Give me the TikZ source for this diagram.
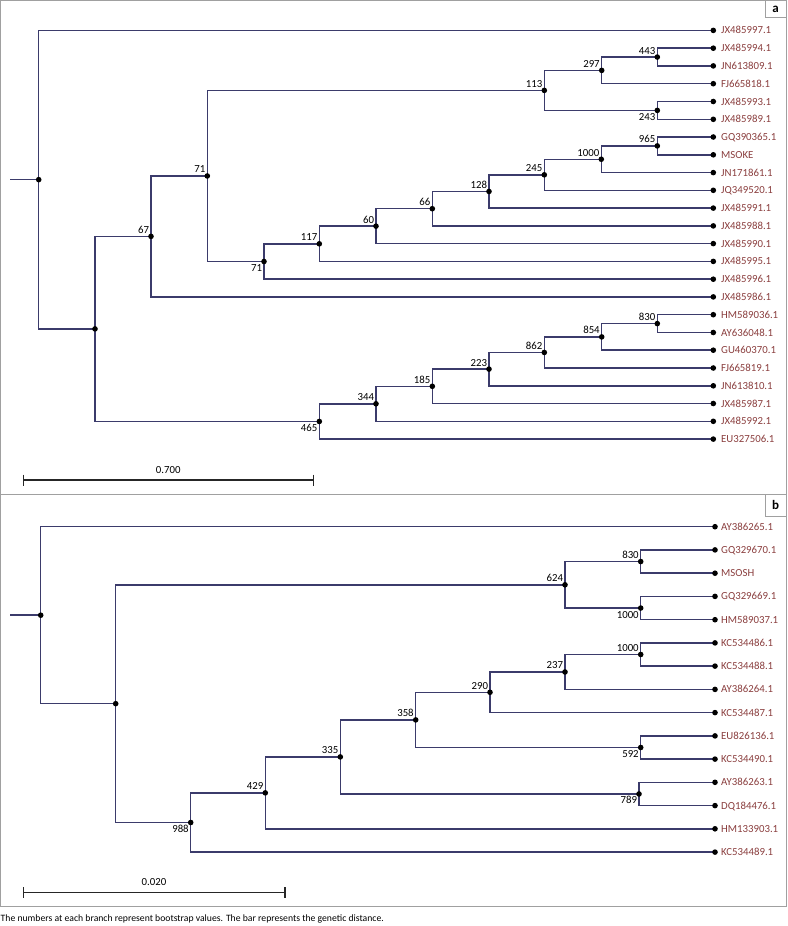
\documentclass[tikz,border=0pt]{standalone}
\usepackage{fontspec}
\setmainfont{Carlito}
\definecolor{branch}{HTML}{3B3B6B}
\definecolor{leafred}{HTML}{8A3E3E}
\definecolor{framegray}{HTML}{A0A0A0}
\tikzset{
  br/.style={draw=branch, line width=1.5pt},
  dot/.style={circle, fill=black, inner sep=0pt, minimum size=5.6pt},
  bs/.style={font=\fontsize{10.8}{12}\selectfont, inner sep=0pt, text=black},
  bsup/.style={bs, anchor=base east, xshift=-1.8pt, yshift=3pt},
  bsdn/.style={bs, anchor=base east, xshift=-1.8pt, yshift=-10pt},
  leaflab/.style={font=\fontsize{10.8}{12}\selectfont, inner sep=0pt, text=leafred, anchor=base west},
  frame/.style={draw=framegray, line width=1pt},
  panlab/.style={draw=framegray, line width=1pt, fill=white, font=\fontsize{13}{14}\selectfont\bfseries, inner sep=0pt},
  sbar/.style={draw=black!85, line width=1.5pt},
}
\begin{document}
\begin{tikzpicture}[x=1pt,y=-1pt]
\useasboundingbox (0,0) rectangle (787,926);
% frames
\draw[frame] (0.8,0.8) rectangle (786,494);
\draw[frame] (0.8,494) rectangle (786,906.5);
\node[panlab, minimum width=21pt, minimum height=17pt] (pa) at (775.5,9.1) {a};
\node[panlab, minimum width=21pt, minimum height=22pt] (pb) at (775.5,505) {b};

% ---------------- panel a ----------------
\coordinate (a1) at (713.3,30.4);
\coordinate (a2) at (713.3,48.2);
\coordinate (a3) at (713.3,65.9);
\coordinate (a4) at (713.3,83.7);
\coordinate (a5) at (713.3,101.5);
\coordinate (a6) at (713.3,119.3);
\coordinate (a7) at (713.3,137.0);
\coordinate (a8) at (713.3,154.8);
\coordinate (a9) at (713.3,172.6);
\coordinate (a10) at (713.3,190.3);
\coordinate (a11) at (713.3,208.1);
\coordinate (a12) at (713.3,225.9);
\coordinate (a13) at (713.3,243.6);
\coordinate (a14) at (713.3,261.4);
\coordinate (a15) at (713.3,279.2);
\coordinate (a16) at (713.3,296.9);
\coordinate (a17) at (713.3,314.7);
\coordinate (a18) at (713.3,332.5);
\coordinate (a19) at (713.3,350.2);
\coordinate (a20) at (713.3,368.0);
\coordinate (a21) at (713.3,385.8);
\coordinate (a22) at (713.3,403.5);
\coordinate (a23) at (713.3,421.3);
\coordinate (a24) at (713.3,439.1);

\coordinate (n443) at (657.3,57.05);
\coordinate (n297) at (601.7,70.4);
\coordinate (n243) at (657.3,110.4);
\coordinate (n113) at (544.3,90.4);
\coordinate (n965) at (657.3,145.9);
\coordinate (n1000) at (601.3,159.25);
\coordinate (n245) at (544.3,174.8);
\coordinate (n128) at (489,191.45);
\coordinate (n66) at (432.3,208.7);
\coordinate (n60) at (376,226.15);
\coordinate (n117) at (319.3,243.8);
\coordinate (n71b) at (264,261.5);
\coordinate (n71) at (207.3,175.95);
\coordinate (n67) at (151,236.4);
\coordinate (n830) at (657.3,323.6);
\coordinate (n854) at (601.7,336.9);
\coordinate (n862) at (544.3,352.45);
\coordinate (n223) at (489,369.1);
\coordinate (n185) at (432.3,386.3);
\coordinate (n344) at (376,403.8);
\coordinate (n465) at (319.3,421.45);
\coordinate (nB) at (95,328.9);
\coordinate (ra) at (38.7,179.65);
\coordinate (sta) at (10,179.65);

\draw[br] (sta) -- (ra);
\foreach \p/\c in {ra/a1, ra/nB, nB/n67, nB/n465, n67/n71, n67/a16,
  n71/n113, n71/n71b, n113/n297, n113/n243, n297/n443, n297/a4,
  n443/a2, n443/a3, n243/a5, n243/a6, n71b/n117, n71b/a15,
  n117/n60, n117/a14, n60/n66, n60/a13, n66/n128, n66/a12,
  n128/n245, n128/a11, n245/n1000, n245/a10, n1000/n965, n1000/a9,
  n965/a7, n965/a8, n465/n344, n465/a24, n344/n185, n344/a23,
  n185/n223, n185/a22, n223/n862, n223/a21, n862/n854, n862/a20,
  n854/n830, n854/a19, n830/a17, n830/a18}
  \draw[br] (\p) |- (\c);

\foreach \n in {ra,nB,n67,n71,n71b,n113,n297,n443,n243,n117,n60,n66,n128,n245,n1000,n965,
  n465,n344,n185,n223,n862,n854,n830,
  a1,a2,a3,a4,a5,a6,a7,a8,a9,a10,a11,a12,a13,a14,a15,a16,a17,a18,a19,a20,a21,a22,a23,a24}
  \node[dot] (d\n) at (\n) {};

\foreach \n/\t in {a1/JX485997.1, a2/JX485994.1, a3/JN613809.1, a4/FJ665818.1,
  a5/JX485993.1, a6/JX485989.1, a7/GQ390365.1, a8/MSOKE, a9/JN171861.1,
  a10/JQ349520.1, a11/JX485991.1, a12/JX485988.1, a13/JX485990.1,
  a14/JX485995.1, a15/JX485996.1, a16/JX485986.1, a17/HM589036.1,
  a18/AY636048.1, a19/GU460370.1, a20/FJ665819.1, a21/JN613810.1,
  a22/JX485987.1, a23/JX485992.1, a24/EU327506.1}
  \node[leaflab, xshift=7.7pt, yshift=-3.5pt] (t\n) at (\n) {\t};

\foreach \n/\t in {n443/443, n297/297, n113/113, n965/965, n1000/1000, n245/245,
  n128/128, n66/66, n60/60, n117/117, n71/71, n67/67, n830/830, n854/854,
  n862/862, n223/223, n185/185, n344/344}
  \node[bsup] (l\n) at (\n) {\t};
\foreach \n/\t in {n243/243, n71b/71, n465/465}
  \node[bsdn] (l\n) at (\n) {\t};

% scale bar a
\coordinate (sa1) at (23.3,480);
\coordinate (sa2) at (313.3,480);
\draw[sbar] (sa1) -- (sa2);
\draw[sbar] ([yshift=5.5pt]sa1) -- ([yshift=-5.5pt]sa1);
\draw[sbar] ([yshift=5.5pt]sa2) -- ([yshift=-5.5pt]sa2);
\node[bs, anchor=base] (sla) at (168.3,473) {0.700};

% ---------------- panel b ----------------
\coordinate (b1) at (715,526.7);
\coordinate (b2) at (715,549.9);
\coordinate (b3) at (715,573.2);
\coordinate (b4) at (715,596.4);
\coordinate (b5) at (715,619.7);
\coordinate (b6) at (715,642.9);
\coordinate (b7) at (715,666.1);
\coordinate (b8) at (715,689.4);
\coordinate (b9) at (715,712.6);
\coordinate (b10) at (715,735.9);
\coordinate (b11) at (715,759.1);
\coordinate (b12) at (715,782.3);
\coordinate (b13) at (715,805.6);
\coordinate (b14) at (715,828.8);
\coordinate (b15) at (715,852.1);

\coordinate (m830) at (640.7,561.55);
\coordinate (m1000a) at (640.7,608.05);
\coordinate (m624) at (565,584.8);
\coordinate (m1000c) at (640.7,654.5);
\coordinate (m237) at (565,671.95);
\coordinate (m290) at (490,692.3);
\coordinate (m592) at (640.7,747.5);
\coordinate (m358) at (415.7,719.9);
\coordinate (m789) at (639,793.95);
\coordinate (m335) at (340.3,756.9);
\coordinate (m429) at (265.3,792.85);
\coordinate (m988) at (190.7,822.5);
\coordinate (mB) at (115.7,703.65);
\coordinate (rb) at (40.7,615.2);
\coordinate (stb) at (10,615.2);

\draw[br] (stb) -- (rb);
\foreach \p/\c in {rb/b1, rb/mB, mB/m624, mB/m988, m624/m830, m624/m1000a,
  m830/b2, m830/b3, m1000a/b4, m1000a/b5, m988/m429, m988/b15,
  m429/m335, m429/b14, m335/m358, m335/m789, m358/m290, m358/m592,
  m290/m237, m290/b9, m237/m1000c, m237/b8, m1000c/b6, m1000c/b7,
  m592/b10, m592/b11, m789/b12, m789/b13}
  \draw[br] (\p) |- (\c);

\foreach \n in {rb,mB,m624,m830,m1000a,m988,m429,m335,m358,m290,m237,m1000c,m592,m789,
  b1,b2,b3,b4,b5,b6,b7,b8,b9,b10,b11,b12,b13,b14,b15}
  \node[dot] (d\n) at (\n) {};

\foreach \n/\t in {b1/AY386265.1, b2/GQ329670.1, b3/MSOSH, b4/GQ329669.1,
  b5/HM589037.1, b6/KC534486.1, b7/KC534488.1, b8/AY386264.1,
  b9/KC534487.1, b10/EU826136.1, b11/KC534490.1, b12/AY386263.1,
  b13/DQ184476.1, b14/HM133903.1, b15/KC534489.1}
  \node[leaflab, xshift=6pt, yshift=-3.5pt] (t\n) at (\n) {\t};

\foreach \n/\t in {m624/624, m830/830, m1000c/1000, m237/237, m290/290,
  m358/358, m335/335, m429/429}
  \node[bsup] (l\n) at (\n) {\t};
\foreach \n/\t in {m1000a/1000, m988/988, m592/592, m789/789}
  \node[bsdn] (l\n) at (\n) {\t};

% scale bar b
\coordinate (sb1) at (23.3,892.7);
\coordinate (sb2) at (285,892.7);
\draw[sbar] (sb1) -- (sb2);
\draw[sbar] ([yshift=5.5pt]sb1) -- ([yshift=-5.5pt]sb1);
\draw[sbar] ([yshift=5.5pt]sb2) -- ([yshift=-5.5pt]sb2);
\node[bs, anchor=base] (slb) at (154,885.5) {0.020};

% caption
\node[anchor=base west, inner sep=0pt, font=\fontsize{9.7}{11}\selectfont] (cap) at (0.5,921.5)
  {The numbers at each branch represent bootstrap values. The bar represents the genetic distance.};
\end{tikzpicture}
\end{document}
